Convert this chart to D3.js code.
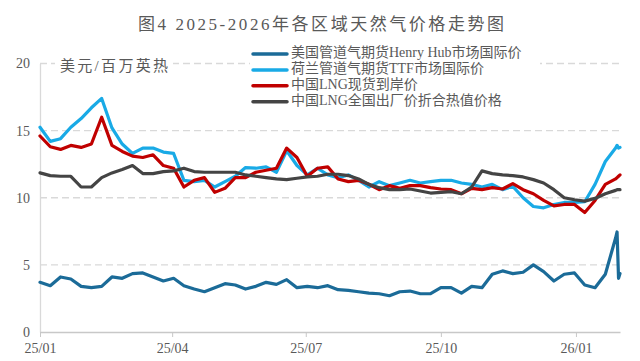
<!DOCTYPE html>
<html>
<head>
<meta charset="utf-8">
<script src="https://cdn.jsdelivr.net/npm/d3@7"></script>
<style>
  body { margin: 0; background: #fff; }
  svg { display: block; font-family: "Liberation Serif", "Noto Sans CJK SC", serif; }
</style>
</head>
<body>
<svg id="chart" width="640" height="361"></svg>
<script>
// 每周取样的日期（最后几天为日度）
const dates = [
  "2025-01-01","2025-01-08","2025-01-15","2025-01-22","2025-01-29","2025-02-05","2025-02-12","2025-02-19","2025-02-26","2025-03-05",
  "2025-03-12","2025-03-19","2025-03-26","2025-04-02","2025-04-09","2025-04-16","2025-04-23","2025-04-30","2025-05-07","2025-05-14",
  "2025-05-21","2025-05-28","2025-06-04","2025-06-11","2025-06-18","2025-06-25","2025-07-02","2025-07-09","2025-07-16","2025-07-23",
  "2025-07-30","2025-08-06","2025-08-13","2025-08-20","2025-08-27","2025-09-03","2025-09-10","2025-09-17","2025-09-24","2025-10-01",
  "2025-10-08","2025-10-15","2025-10-22","2025-10-29","2025-11-05","2025-11-12","2025-11-19","2025-11-26","2025-12-03","2025-12-10",
  "2025-12-17","2025-12-24","2025-12-31","2026-01-07","2026-01-14","2026-01-21","2026-01-28","2026-01-29","2026-01-30","2026-01-31"
];

const henryHub = [3.7,3.45,4.1,3.95,3.4,3.3,3.4,4.1,4.0,4.35, 4.4,4.1,3.8,4.0,3.45,3.2,3.0,3.3,3.6,3.5,
  3.2,3.4,3.7,3.55,3.9,3.3,3.4,3.3,3.45,3.15, 3.1,3.0,2.9,2.85,2.7,3.0,3.05,2.85,2.85,3.3,
  3.3,2.9,3.4,3.3,4.3,4.55,4.35,4.45,5.0,4.5, 3.8,4.3,4.4,3.5,3.3,4.3,7.0, 7.45,4.0,4.35];

const ttf = [15.25,14.2,14.4,15.25,15.9,16.7,17.4,15.2,14.0,13.3, 13.7,13.7,13.4,13.3,11.3,11.2,11.3,10.8,11.2,11.6,
  12.25,12.2,12.3,11.9,13.5,12.4,11.7,12.2,11.7,11.5, 11.7,11.3,10.8,11.2,10.9,11.1,11.3,11.1,11.2,11.3,
  11.3,11.1,11.0,10.8,11.0,10.6,10.85,10.0,9.35,9.25, 9.5,9.65,9.65,9.7,11.0,12.7,13.7, 13.9,13.7,13.75];

const lngSpot = [14.6,13.8,13.6,13.9,13.75,14.0,16.0,13.9,13.45,13.1, 13.0,13.2,12.4,12.2,10.8,11.3,11.5,10.4,10.7,11.5,
  11.5,11.9,12.05,12.2,13.7,13.0,11.6,12.2,12.3,11.4, 11.2,11.3,11.0,10.6,10.9,10.7,10.9,10.9,10.75,10.65,
  10.6,10.3,10.7,10.6,10.75,10.65,11.05,10.6,10.3,9.8, 9.4,9.5,9.5,8.9,9.8,11.0,11.4, 11.5,11.6,11.7];

const lngFactory = [11.85,11.65,11.6,11.6,10.8,10.8,11.5,11.85,12.1,12.4, 11.8,11.8,11.95,12.0,12.2,11.95,11.9,11.9,11.9,11.9,
  11.7,11.6,11.5,11.4,11.35,11.45,11.55,11.6,11.75,11.75, 11.65,11.4,11.0,10.75,10.6,10.6,10.65,10.5,10.35,10.4,
  10.45,10.3,10.8,12.0,11.8,11.7,11.65,11.55,11.35,11.1, 10.6,10.0,9.85,9.75,9.95,10.3,10.55, 10.6,10.6,10.6];

const seriesNames = ["美国管道气期货Henry Hub市场国际价", "荷兰管道气期货TTF市场国际价", "中国LNG现货到岸价", "中国LNG全国出厂价折合热值价格"];
const yTicks = [0, 5, 10, 15, 20];
const xTicks = ["2025-01-01", "2025-04-01", "2025-07-01", "2025-10-01", "2026-01-01"];

const colors = ["#1b6b98", "#19aae6", "#c00000", "#444444"];
const parse = d3.timeParse("%Y-%m-%d");
const series = [henryHub, ttf, lngSpot, lngFactory];

const svg = d3.select("#chart");
const textColor = "#595959";

const x = d3.scaleTime()
  .domain([parse("2025-01-01"), parse("2026-01-31")])
  .range([40, 620]);

const y = d3.scaleLinear()
  .domain([0, 20])
  .range([332, 63.5]);

// 标题
svg.append("text")
  .attr("x", 138).attr("y", 26)
  .attr("dominant-baseline", "middle")
  .attr("font-size", "17px")
  .attr("fill", textColor)
  .attr("textLength", 366)
  .attr("lengthAdjust", "spacing")
  .text("图4 2025-2026年各区域天然气价格走势图");

// 网格线（虚线）
svg.append("g")
  .selectAll("line")
  .data(yTicks.filter(d => d > 0))
  .join("line")
  .attr("x1", 40).attr("x2", 620)
  .attr("y1", d => y(d)).attr("y2", d => y(d))
  .attr("stroke", "#d9d9d9")
  .attr("stroke-width", 1.3)
  .attr("stroke-dasharray", "7,4");

// Y轴
const yAxis = svg.append("g")
  .attr("transform", "translate(40,0)")
  .call(d3.axisLeft(y).tickValues(yTicks).tickSize(0).tickPadding(10));
yAxis.select(".domain").attr("stroke", "#d9d9d9").attr("stroke-width", 1.3);
yAxis.selectAll("text")
  .attr("fill", textColor)
  .attr("font-size", "14px")
  .attr("font-family", "Liberation Serif, serif");

// X轴
const xAxis = svg.append("g")
  .attr("transform", `translate(0,${y(0)})`)
  .call(d3.axisBottom(x)
    .tickValues(xTicks.map(parse))
    .tickFormat(d3.timeFormat("%y/%m"))
    .tickSize(5)
    .tickPadding(6)
    .tickSizeOuter(0));
xAxis.select(".domain").attr("stroke", "#c8c8c8").attr("stroke-width", 1.3);
xAxis.selectAll(".tick line").attr("stroke", "#c8c8c8");
xAxis.selectAll("text")
  .attr("fill", textColor)
  .attr("font-size", "14px")
  .attr("font-family", "Liberation Serif, serif");

// 折线
const line = d3.line()
  .x((d, i) => x(parse(dates[i])))
  .y(d => y(d));

svg.append("g")
  .selectAll("path")
  .data(series)
  .join("path")
  .attr("d", line)
  .attr("fill", "none")
  .attr("stroke", (d, i) => colors[i])
  .attr("stroke-width", 3.2)
  .attr("stroke-linejoin", "round")
  .attr("stroke-linecap", "round");

// 单位
svg.append("rect")
  .attr("x", 55).attr("y", 58).attr("width", 118).attr("height", 20)
  .attr("fill", "#fff");
svg.append("text")
  .attr("x", 60).attr("y", 68)
  .attr("dominant-baseline", "middle")
  .attr("font-size", "15px")
  .attr("fill", textColor)
  .attr("textLength", 108)
  .attr("lengthAdjust", "spacing")
  .text("美元/百万英热");

// 图例
const legend = svg.append("g");
legend.append("rect")
  .attr("x", 250).attr("y", 46).attr("width", 290).attr("height", 63)
  .attr("fill", "#fff");
const items = legend.selectAll("g.item")
  .data(seriesNames)
  .join("g")
  .attr("class", "item")
  .attr("transform", (d, i) => `translate(253,${54 + i * 15.9})`);
items.append("line")
  .attr("x1", 0).attr("x2", 34)
  .attr("stroke", (d, i) => colors[i])
  .attr("stroke-width", 3.5)
  .attr("stroke-linecap", "round");
items.append("text")
  .attr("x", 38).attr("y", 0)
  .attr("dominant-baseline", "middle")
  .attr("font-size", "14px")
  .attr("fill", textColor)
  .text(d => d);
</script>
</body>
</html>
